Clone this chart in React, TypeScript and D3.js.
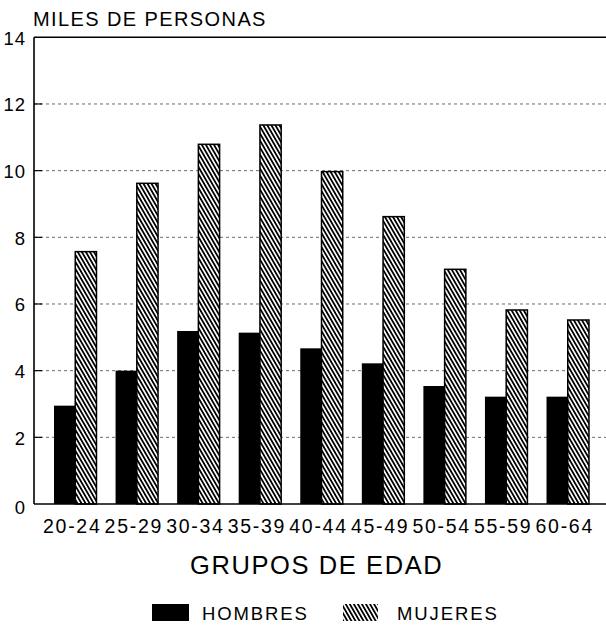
import React from 'react';
import * as d3 from 'd3';

const categories = ['20-24', '25-29', '30-34', '35-39', '40-44', '45-49', '50-54', '55-59', '60-64'];
const hombres = [2.95, 4.0, 5.19, 5.14, 4.67, 4.22, 3.54, 3.22, 3.22];
const mujeres = [7.57, 9.62, 10.79, 11.37, 9.97, 8.62, 7.04, 5.82, 5.52];
const yTicks = [0, 2, 4, 6, 8, 10, 12, 14];
const gridTicks = [2, 4, 6, 8, 10, 12];

const W = 606;
const H = 625;
const FONT = '"Liberation Sans", Arial, Helvetica, sans-serif';

export default function App() {
  const x = d3.scaleBand<string>().domain(categories).range([34, 609]).paddingInner(0.31).paddingOuter(0.325);
  const y = d3.scaleLinear().domain([0, 14]).range([504, 37.3]);
  const bw = x.bandwidth() / 2;

  return (
    <div style={{ position: 'absolute', left: 0, top: 0 }}>
      <svg width={W} height={H} style={{ display: 'block', background: '#fff' }}>
        <defs>
          <pattern id="hatch" width="3.5" height="10" patternUnits="userSpaceOnUse" patternTransform="rotate(-30)">
            <rect width="3.5" height="10" fill="#fff" />
            <rect width="1.8" height="10" fill="#000" />
          </pattern>
        </defs>

        {/* gridlines */}
        {gridTicks.map((t) => (
          <g key={t}>
            <line x1={34} x2={W} y1={y(t)} y2={y(t)} stroke="#444" strokeWidth={0.8} strokeDasharray="3,3" />
            <line x1={34} x2={42} y1={y(t)} y2={y(t)} stroke="#000" strokeWidth={1.2} />
          </g>
        ))}

        {/* bars */}
        {categories.map((c, i) => (
          <g key={c}>
            <rect x={x(c)!} y={y(hombres[i])} width={bw} height={y(0) - y(hombres[i])} fill="#000" />
            <rect
              x={x(c)! + bw}
              y={y(mujeres[i])}
              width={bw}
              height={y(0) - y(mujeres[i])}
              fill="url(#hatch)"
              stroke="#000"
              strokeWidth={1.5}
            />
          </g>
        ))}

        {/* frame */}
        <line x1={34} x2={W} y1={y(14)} y2={y(14)} stroke="#000" strokeWidth={1.6} />
        <line x1={34} x2={W} y1={y(0)} y2={y(0)} stroke="#000" strokeWidth={1.6} />
        <line x1={34} x2={34} y1={y(14)} y2={y(0)} stroke="#000" strokeWidth={1.6} />

        {/* y tick labels */}
        {yTicks.map((t) => (
          <text
            key={t}
            x={26}
            y={y(t) + (t === 0 ? 3 : 1)}
            textAnchor="end"
            dominantBaseline="central"
            fontFamily={FONT}
            fontSize={18.5}
            letterSpacing={1}
          >
            {t}
          </text>
        ))}

        {/* y title */}
        <text x={33} y={26} fontFamily={FONT} fontSize={20} letterSpacing={1.4}>
          MILES DE PERSONAS
        </text>

        {/* x labels */}
        {categories.map((c) => (
          <text
            key={c}
            x={x(c)! + x.bandwidth() / 2 - 3}
            y={533}
            textAnchor="middle"
            fontFamily={FONT}
            fontSize={19.5}
            letterSpacing={1.7}
          >
            {c}
          </text>
        ))}

        {/* x title */}
        <text x={190} y={573.5} fontFamily={FONT} fontSize={25.5} letterSpacing={1.6}>
          GRUPOS DE EDAD
        </text>

        {/* legend */}
        <rect x={152} y={604} width={37} height={17} fill="#000" />
        <text x={202} y={620} fontFamily={FONT} fontSize={18.5} letterSpacing={1.9}>
          HOMBRES
        </text>
        <rect x={343} y={604} width={35} height={17} fill="url(#hatch)" />
        <text x={397} y={620} fontFamily={FONT} fontSize={18.5} letterSpacing={1.9}>
          MUJERES
        </text>
      </svg>
    </div>
  );
}
